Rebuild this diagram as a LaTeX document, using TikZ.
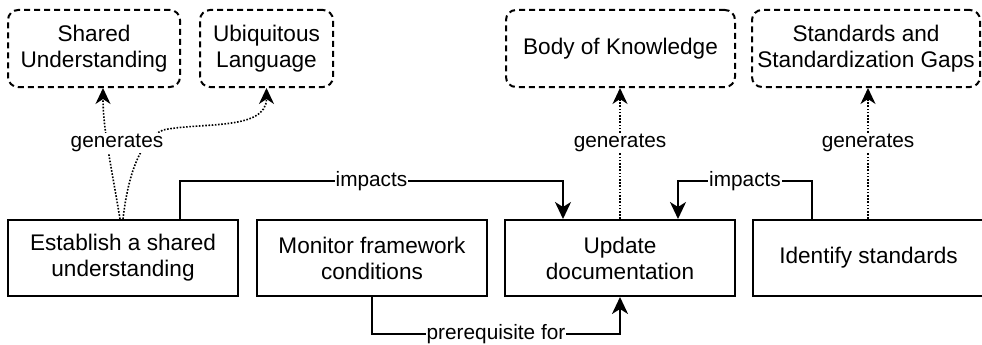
\documentclass[tikz,border=0pt]{standalone}
\usepackage{fontspec}
\setmainfont{Liberation Sans}
\usetikzlibrary{arrows.meta,calc}

\tikzset{
  procbox/.style={draw, line width=2pt, rectangle, minimum width=230pt, minimum height=76pt,
    align=center, inner sep=2pt, font=\fontsize{22.6}{26}\selectfont},
  resultbox/.style={draw, line width=2pt, dash pattern=on 6pt off 4pt, rounded corners=10pt,
    minimum height=77pt, align=center, inner sep=2pt, font=\fontsize{22.6}{26}\selectfont},
  flow/.style={line width=2pt, -{Stealth[length=17pt,width=16pt,inset=5pt]}},
  gen/.style={line width=1.6pt, dash pattern=on 1.6pt off 1.6pt,
    -{Stealth[length=16pt,width=15pt,inset=5pt]}},
  lbl/.style={fill=white, inner sep=1pt, font=\fontsize{20.8}{24}\selectfont}
}

\begin{document}
\begin{tikzpicture}[x=1pt,y=-1pt]
  \useasboundingbox[fill=white] (0,0) rectangle (982,345);

  % activities
  \node[procbox] (est) at (123,258) {Establish a shared\\understanding};
  \node[procbox] (mon) at (372,258) {Monitor framework\\conditions};
  \node[procbox] (upd) at (620,258) {Update\\documentation};
  \node[procbox, minimum width=231pt] (ids) at (868.5,258) {Identify standards};

  % results
  \node[resultbox, minimum width=172pt] (shu) at (94,48.5) {Shared\\Understanding};
  \node[resultbox, minimum width=133pt] (ubl) at (266.5,48.5) {Ubiquitous\\Language};
  \node[resultbox, minimum width=229pt] (bok) at (620.5,48.5) {Body of Knowledge};
  \node[resultbox, minimum width=228pt] (std) at (866,48.5) {Standards and\\Standardization Gaps};

  % impacts / prerequisite connectors
  \draw[flow] ([xshift=57pt]est.north) -- ++(0,-38) -| ([xshift=-57pt]upd.north)
    node[lbl, pos=0.25] {impacts};
  \draw[flow] ([xshift=-56.5pt]ids.north) -- ++(0,-38) -| ([xshift=58pt]upd.north)
    node[lbl, pos=0.25] {impacts};
  \draw[flow] (mon.south) -- ++(0,37) -| (upd.south)
    node[lbl, pos=0.25] {prerequisite for};

  % generates connectors
  \coordinate (estA) at ([xshift=-3pt]est.north);
  \coordinate (estB) at (est.north);
  \draw[gen] (estA) .. controls (112,170) and (103,130) .. ([xshift=9pt]shu.south);
  \draw[gen] (estB) .. controls (128,175) and (140,140) .. (163,130)
    .. controls (200,122) and ($(ubl.south)+(0,43)$) .. (ubl.south);
  \node[lbl] (genL) at (117,143) {generates};

  \draw[gen] (upd.north) -- (upd.north |- bok.south) node[lbl, pos=0.58] {generates};
  \draw[gen] ([xshift=-0.5pt]ids.north) -- ([xshift=-0.5pt]ids.north |- std.south)
    node[lbl, pos=0.58] {generates};
\end{tikzpicture}
\end{document}
